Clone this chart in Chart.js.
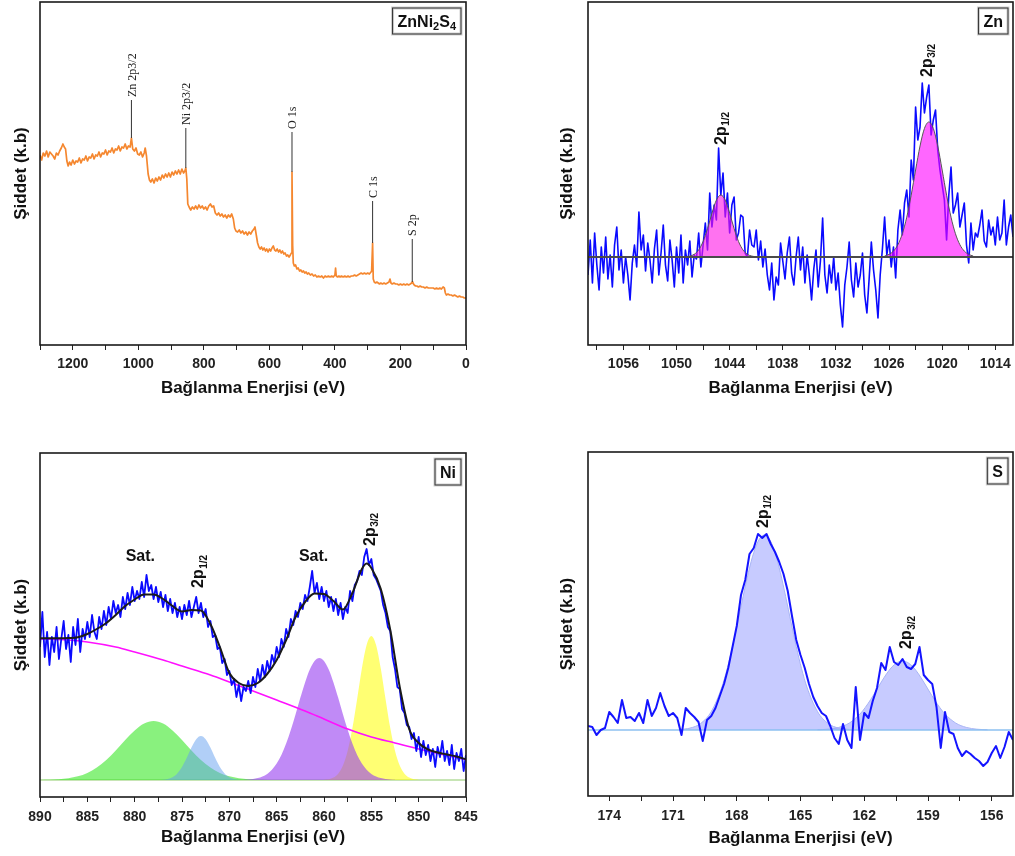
<!DOCTYPE html>
<html>
<head>
<meta charset="utf-8">
<title>ZnNi2S4 XPS</title>
<script src="https://cdn.jsdelivr.net/npm/chart.js@4.4.1/dist/chart.umd.min.js"></script>
<style>
  body { margin: 0; background: #fff; }
  canvas { position: absolute; }
</style>
</head>
<body>
<canvas id="survey" width="480" height="400" style="left:0;top:0"></canvas>
<canvas id="zn" width="475" height="400" style="left:540px;top:0"></canvas>
<canvas id="ni" width="480" height="416" style="left:0;top:440px"></canvas>
<canvas id="sulfur" width="475" height="416" style="left:540px;top:440px"></canvas>
<script>
// ---- survey scan [binding energy eV, intensity] ----
const surveyScan = [
  [1300,190],[1295,185],[1290,192],[1285,189],[1280,194],[1275,188],[1270,193],[1265,191],[1260,189],[1255,186],
  [1250,192],[1245,190],[1240,194],[1235,197],[1230,201],[1226,198],[1222,196],[1218,184],[1214,179],[1210,183],
  [1205,180],[1200,185],[1195,181],[1190,184],[1185,183],[1180,187],[1175,182],[1170,186],[1165,185],[1160,189],
  [1155,184],[1150,188],[1145,187],[1140,191],[1135,186],[1130,190],[1125,189],[1120,193],[1115,188],[1110,192],
  [1105,191],[1100,195],[1095,190],[1090,194],[1085,193],[1080,197],[1075,192],[1070,196],[1065,195],[1060,199],
  [1055,194],[1050,198],[1045,197],[1040,201],[1035,196],[1030,199],[1025,198],[1021,207],[1017,196],[1012,194],
  [1007,197],[1002,191],[997,190],[992,193],[987,188],[982,192],[979,197],[975,189],[970,171],[966,165],
  [962,163],[957,166],[952,162],[947,167],[942,164],[937,168],[932,165],[927,170],[922,167],[917,171],
  [912,168],[907,172],[902,168],[897,173],[892,170],[887,174],[882,171],[877,175],[872,171],[867,176],
  [862,172],[858,174],[855,177],[852,166],[849,141],[845,138],[840,135],[835,138],[830,136],[825,139],
  [820,136],[815,140],[810,137],[805,139],[800,136],[795,138],[790,135],[785,139],[780,141],[775,138],
  [770,139],[765,132],[760,130],[755,132],[750,129],[745,131],[740,128],[735,130],[730,127],[725,130],
  [720,128],[715,131],[710,126],[706,117],[702,114],[697,113],[692,115],[687,112],[682,114],[677,111],
  [672,113],[667,110],[662,113],[657,111],[652,114],[647,116],[644,118],[640,110],[636,102],[632,98],
  [628,96],[624,98],[620,95],[616,97],[612,94],[608,96],[604,93],[600,96],[596,94],[592,97],
  [588,99],[584,95],[580,94],[576,96],[572,93],[568,95],[564,92],[560,94],[556,91],[552,92],
  [548,89],[544,90],[540,88],[536,90],[533,92],[531,173],[529,100],[527,82],[524,79],[520,80],
  [516,76],[512,77],[508,74],[504,75],[500,73],[496,74],[492,72],[488,73],[484,71],[480,72],
  [475,70],[470,71],[465,69],[460,70],[455,68],[450,69],[445,68],[440,69],[435,67],[430,69],
  [425,68],[420,69],[415,68],[410,69],[405,68],[400,70],[398,77],[396,69],[392,68],[388,69],
  [384,68],[380,69],[375,68],[370,69],[365,68],[360,69],[355,68],[350,69],[345,69],[340,70],
  [335,69],[330,70],[325,71],[320,72],[315,71],[310,72],[305,71],[300,72],[295,71],[290,73],
  [288,74],[285,102],[283,66],[280,63],[276,62],[272,63],[268,62],[264,61],[260,62],[255,61],
  [250,62],[245,61],[240,62],[235,63],[232,66],[229,62],[225,61],[220,62],[215,61],[210,61],
  [205,60],[200,61],[195,60],[190,61],[185,60],[180,61],[175,60],[170,61],[166,62],[164,63],
  [162,62],[158,60],[154,59],[150,59],[145,58],[140,59],[135,58],[130,58],[125,57],[120,58],
  [115,57],[110,57],[105,57],[100,57],[95,56],[90,57],[85,56],[80,57],[75,56],[70,58],
  [66,57],[63,52],[60,50],[55,51],[50,50],[45,50],[40,49],[35,50],[30,49],[25,48],
  [20,49],[15,48],[10,48],[5,47],[0,47]
];
const surveyPeakNames = ['Zn 2p3/2', 'Ni 2p3/2', 'O 1s', 'C 1s', 'S 2p'];
const surveyPeakEnergy = [1021, 855, 531, 285, 164];
const surveyPeakTop = [207, 177, 173, 102, 63];
const surveyLeaderTop = [245, 217, 213, 144, 106];
const surveyTicks = [1200, 1000, 800, 600, 400, 200, 0];

// ---- Zn 2p region, 0.25 eV steps from 1060 eV down ----
const znStart = 1060, znStep = 0.25;
const znCounts = [
  70,105,62,112,80,55,98,72,
  108,66,90,58,100,118,75,95,
  62,88,70,45,82,100,78,133,
  95,110,74,102,85,62,96,115,
  70,92,120,80,64,105,85,58,
  98,72,110,62,95,80,104,68,
  90,86,112,78,100,122,95,152,
  118,140,125,197,150,172,128,152,
  112,140,148,105,112,130,128,92,
  88,115,100,98,115,85,104,78,
  96,70,55,82,45,68,60,102,
  84,66,92,108,72,60,88,108,
  75,98,62,90,70,45,76,95,
  58,84,127,70,52,80,62,88,
  55,72,40,18,60,78,103,65,
  48,82,58,70,92,50,32,66,
  103,75,55,27,70,96,128,90,
  105,78,98,67,115,135,110,142,
  155,128,185,165,238,205,218,262,
  232,248,260,210,225,235,195,175,
  160,145,105,150,178,132,140,152,
  118,130,142,100,82,122,95,112,
  108,120,135,104,98,125,110,118,
  100,128,105,112,145,100,118,130,
  108
];
const znBaseline = 88;
const znFit12 = [
  [1049,88.2],[1048.5,88.9],[1048,90.7],[1047.5,95.1],[1047,103.5],[1046.5,116.4],[1046,131.8],[1045.5,144.9],
  [1045,150],[1044.5,144.9],[1044,131.8],[1043.5,116.4],[1043,103.5],[1042.5,95.1],[1042,90.7],[1041.5,88.9],[1041,88.2]
];
const znFit32 = [
  [1026.5,89],[1026,90.6],[1025.5,93.9],[1025,100.3],[1024.5,111.3],[1024,127.8],[1023.5,149.8],[1023,175],
  [1022.5,199],[1022,216.6],[1021.5,223],[1021,216.6],[1020.5,199],[1020,175],[1019.5,149.8],[1019,127.8],
  [1018.5,111.3],[1018,100.3],[1017.5,93.9],[1017,90.6],[1016.5,89]
];
const znTicks = [1056, 1050, 1044, 1038, 1032, 1026, 1020, 1014];

// ---- Ni 2p region, 0.25 eV steps from 890 eV down ----
const niStart = 890, niStep = 0.25;
const niCounts = [
  150,185,140,165,132,160,145,170,
  138,158,176,148,162,135,170,152,
  178,145,168,158,175,160,182,165,
  158,180,168,186,172,190,178,196,
  184,192,180,200,188,204,192,210,
  196,206,198,215,200,222,206,212,
  198,210,195,205,190,202,186,198,
  184,194,180,190,178,192,182,196,
  180,190,200,184,194,180,188,170,
  176,160,162,148,150,134,138,122,
  126,112,118,100,112,96,110,106,
  116,104,120,110,128,116,132,120,
  136,126,142,134,150,140,158,150,
  168,160,178,172,186,180,194,188,
  202,196,210,226,204,214,198,210,
  196,206,190,200,186,198,182,194,
  178,190,184,206,196,212,216,226,
  222,240,248,232,238,222,218,212,
  206,192,184,170,166,140,128,110,
  108,88,84,72,70,58,64,46,
  60,40,56,42,52,36,48,30,
  50,40,56,36,46,32,52,28,
  44,36,48,26,
  42
];
const niEnvelope = [
  [890,158.7],[889,158.7],[888,158.7],[887,159],[886,159.7],[885,163],[884,168],[883,174],[882,182],[881,191],
  [880,197.5],[879,202.5],[878,202.5],[877,198],[876,191],[875,185.5],[874,187],[873,186.5],[872,173],[871,150],
  [870,124],[869,114],[868,111],[867,114],[866,123],[865,137],[864,157],[863,180],[862,195],[861,203.5],
  [860,203],[859,196],[858,187.5],[857,204],[856,228],[855.5,233.5],[855,229],[854,208],[853,167],[852,110],
  [851,68],[850,54],[849,47.5],[848,44.5],[847,42.5],[846,40.5],[845,37.7]
];
const niBackground = [
  [890,158],[887,157],[885,155],[882,150],[880,145],[877,137],[875,131],[872,122],[870,115],[867.5,106],
  [865,97],[862,86],[860,78],[857.5,68],[855,60],[852.5,54],[850,48],[847.5,42.5],[845,37.5]
];
const niSatHigh = [
  [890,17.1],[889,17.3],[888,17.8],[887,18.8],[886,20.7],[885,24.1],[884,29.4],[883,37],[882,46.5],[881,57],
  [880,66.6],[879,73.5],[878,76],[877,73.5],[876,66.6],[875,57],[874,46.5],[873,37],[872,29.4],[871,24.1],
  [870,20.7],[869,18.8],[868,17.8],[867,17.3],[866,17.1],[865,17]
];
const ni2p12 = [
  [877.5,17.1],[877,17.3],[876.5,18],[876,19.8],[875.5,23.5],[875,30],[874.5,39.2],[874,49.4],[873.5,57.8],[873,61],
  [872.5,57.8],[872,49.4],[871.5,39.2],[871,30],[870.5,23.5],[870,19.8],[869.5,18],[869,17.3],[868.5,17.1]
];
const niSatLow = [
  [868.5,17.2],[868,17.5],[867.5,18],[867,18.9],[866.5,20.5],[866,23.1],[865.5,27.3],[865,33.5],[864.5,42.1],
  [864,53.4],[863.5,67.2],[863,82.8],[862.5,99.2],[862,114.6],[861.5,127.5],[861,136],[860.5,139],
  [860,136],[859.5,127.5],[859,114.6],[858.5,99.2],[858,82.8],[857.5,67.2],[857,53.4],[856.5,42.1],
  [856,33.5],[855.5,27.3],[855,23.1],[854.5,20.5],[854,18.9],[853.5,18],[853,17.5],[852.5,17.2]
];
const ni2p32 = [
  [860,17.2],[859.5,17.8],[859,19.4],[858.5,23.3],[858,31.5],[857.5,46.2],[857,68.9],[856.5,98.1],[856,128.6],[855.5,152],
  [855,161],[854.5,152],[854,128.6],[853.5,98.1],[853,68.9],[852.5,46.2],[852,31.5],[851.5,23.3],[851,19.4],[850.5,17.8],[850,17.2]
];
const niBaseline = 17;
const niTicks = [890, 885, 880, 875, 870, 865, 860, 855, 850, 845];

// ---- S 2p region, 0.2 eV steps from 175 eV down ----
const sStart = 175, sStep = 0.2;
const sCounts = [
  70,69,61,66,68,84,79,73,96,78,
  79,75,83,73,96,80,88,103,90,80,
  83,78,61,88,83,79,74,55,76,80,
  88,100,112,128,149,170,201,216,242,248,
  262,258,262,252,244,234,222,205,180,156,
  141,128,112,99,90,83,80,70,58,52,
  72,56,48,109,56,83,78,95,108,133,
  126,149,134,131,137,129,127,132,149,121,
  116,112,89,48,84,64,62,48,40,45,
  42,38,35,30,34,43,50,38,49,64,
  56
];
const sBaseline = 66;
const sFit12 = [
  [170.7,66.5],[170.2,67.9],[169.7,72.5],[169.2,84.4],[168.7,109],[168.45,127.3],[168.2,149.3],[167.95,174],
  [167.7,199.6],[167.45,223.6],[167.2,243.5],[166.95,256.4],[166.7,261],[166.45,256.4],[166.2,243.5],
  [165.95,223.6],[165.7,199.6],[165.45,174],[165.2,149.3],[164.95,127.3],[164.7,109],[164.2,84.4],
  [163.7,72.5],[163.2,67.9],[162.7,66.5]
];
const sFit32 = [
  [164.2,66.2],[163.7,66.8],[163.2,68.6],[162.7,73],[162.2,82],[161.95,88.6],[161.7,96.4],[161.45,105],
  [161.2,113.9],[160.95,122.2],[160.7,129],[160.45,133.4],[160.2,135],[159.95,133.4],[159.7,129],
  [159.45,122.2],[159.2,113.9],[158.95,105],[158.7,96.4],[158.45,88.6],[158.2,82],[157.7,73],
  [157.2,68.6],[156.7,66.8],[156.2,66.2]
];
const sTicks = [174, 171, 168, 165, 162, 159, 156];

// peak captions
const znNotes = [
  { text: '2p', sub: '1/2', x: 1044.9, y: 200, rotate: true },
  { text: '2p', sub: '3/2', x: 1021.7, y: 268, rotate: true }
];
const niNotes = [
  { text: 'Sat.', x: 879.4, y: 240 },
  { text: 'Sat.', x: 861.1, y: 240 },
  { text: '2p', sub: '1/2', x: 873.2, y: 209, rotate: true },
  { text: '2p', sub: '3/2', x: 855.1, y: 251, rotate: true }
];
const sNotes = [
  { text: '2p', sub: '1/2', x: 166.75, y: 268, rotate: true },
  { text: '2p', sub: '3/2', x: 160.0, y: 147, rotate: true }
];

const FONT = '"Liberation Sans", Arial, Helvetica, sans-serif';
Chart.defaults.font.family = FONT;

const pts = arr => arr.map(([x, y]) => ({ x, y }));
const stepped = (start, step, vals) => vals.map((y, i) => ({ x: +(start - i * step).toFixed(2), y }));

// labelled ticks plus an unlabelled one halfway between each pair
function tickValues(major, min, max) {
  const half = Math.abs(major[1] - major[0]) / 2;
  const lo = Math.min(...major);
  const out = [];
  for (let v = lo - half * Math.floor((lo - min) / half); v <= max + 1e-9; v += half) out.push(+v.toFixed(3));
  return out;
}

function drawNote(ctx, px, py, n) {
  ctx.save();
  ctx.translate(px, py);
  ctx.fillStyle = '#111';
  ctx.textBaseline = 'middle';
  ctx.font = `bold 16px ${FONT}`;
  if (n.rotate) {
    ctx.rotate(-Math.PI / 2);
    ctx.textAlign = 'left';
    ctx.fillText(n.text, 0, 0);
    const w = ctx.measureText(n.text).width;
    ctx.font = `bold 10px ${FONT}`;
    ctx.fillText(n.sub, w + 0.5, 5);
  } else {
    ctx.textAlign = 'center';
    ctx.fillText(n.text, 0, 0);
  }
  ctx.restore();
}

function drawTag(ctx, area, parts) {
  const big = `bold 16px ${FONT}`, small = `bold 11px ${FONT}`;
  let w = 0;
  parts.forEach(([t, sub]) => { ctx.font = sub ? small : big; w += ctx.measureText(t).width; });
  const bw = w + 10, bh = 26;
  const bx = area.right - 5 - bw, by = area.top + 6;
  ctx.fillStyle = '#fff';
  ctx.fillRect(bx, by, bw, bh);
  ctx.strokeStyle = '#cfcfcf'; ctx.lineWidth = 3;
  ctx.strokeRect(bx, by, bw, bh);
  ctx.strokeStyle = '#333'; ctx.lineWidth = 1;
  ctx.strokeRect(bx, by, bw, bh);
  ctx.fillStyle = '#111';
  ctx.textAlign = 'left';
  ctx.textBaseline = 'alphabetic';
  let cx = bx + 5;
  parts.forEach(([t, sub]) => {
    ctx.font = sub ? small : big;
    ctx.fillText(t, cx, by + bh / 2 + (sub ? 9 : 6));
    cx += ctx.measureText(t).width;
  });
}

function decor(cfg) {
  return {
    id: 'decor',
    afterDraw(chart) {
      const { ctx, chartArea: a, scales: { x, y } } = chart;
      ctx.save();
      ctx.strokeStyle = '#1a1a1a';
      ctx.lineWidth = 1.6;
      ctx.strokeRect(a.left, a.top, a.right - a.left, a.bottom - a.top);
      (cfg.notes || []).forEach(n => drawNote(ctx, x.getPixelForValue(n.x), y.getPixelForValue(n.y), n));
      if (cfg.leaders) {
        ctx.font = '12px "Liberation Serif", "Times New Roman", serif';
        ctx.fillStyle = '#222';
        ctx.textAlign = 'left';
        ctx.textBaseline = 'middle';
        cfg.leaders.names.forEach((name, i) => {
          ctx.save();
          ctx.translate(x.getPixelForValue(cfg.leaders.energy[i]) + 1, y.getPixelForValue(cfg.leaders.top[i]) - 3);
          ctx.rotate(-Math.PI / 2);
          ctx.fillText(name, 0, 0);
          ctx.restore();
        });
      }
      drawTag(ctx, a, cfg.tag);
      ctx.restore();
    }
  };
}

function makePanel(id, cfg) {
  return new Chart(document.getElementById(id), {
    type: 'line',
    data: { datasets: cfg.datasets },
    options: {
      responsive: false,
      animation: false,
      events: [],
      layout: { padding: { top: cfg.top, right: cfg.right, left: 0, bottom: 0 } },
      plugins: { legend: { display: false }, tooltip: { enabled: false } },
      elements: { point: { radius: 0 }, line: { tension: 0, borderJoinStyle: 'round' } },
      scales: {
        x: {
          type: 'linear',
          reverse: true,
          min: cfg.xMin,
          max: cfg.xMax,
          afterBuildTicks: s => { s.ticks = tickValues(cfg.major, cfg.xMin, cfg.xMax).map(v => ({ value: v })); },
          afterFit: s => { s.height = cfg.xHeight; },
          ticks: {
            autoSkip: false, maxRotation: 0, padding: cfg.tickPad, color: '#222',
            font: { size: 14, weight: 'bold' },
            callback: v => cfg.major.includes(v) ? String(v) : ''
          },
          grid: { display: true, drawOnChartArea: false, drawTicks: true, tickLength: 5, color: '#222' },
          border: { display: false },
          title: {
            display: true, text: 'Bağlanma Enerjisi (eV)', color: '#111',
            font: { size: 17, weight: 'bold' }, padding: { top: 0, bottom: cfg.xTitlePad }
          }
        },
        y: {
          min: 0,
          max: cfg.yMax,
          afterFit: s => { s.width = cfg.yWidth; },
          ticks: { display: false },
          grid: { display: false },
          border: { display: false },
          title: {
            display: true, text: 'Şiddet (k.b)', color: '#111',
            font: { size: 17, weight: 'bold' }, padding: { top: cfg.yTitlePad, bottom: 0 }
          }
        }
      }
    },
    plugins: [decor(cfg)]
  });
}

// survey
const surveyLeaders = surveyPeakEnergy.map((e, i) => ({
  data: [{ x: e, y: surveyPeakTop[i] }, { x: e, y: surveyLeaderTop[i] }],
  borderColor: '#333', borderWidth: 1, order: 1
}));
makePanel('survey', {
  xMin: 0, xMax: 1300, yMax: 343, major: surveyTicks,
  top: 2, right: 14, yWidth: 40, xHeight: 55, tickPad: 6, xTitlePad: 1.5, yTitlePad: 10.8,
  tag: [['ZnNi', false], ['2', true], ['S', false], ['4', true]],
  leaders: { names: surveyPeakNames, energy: surveyPeakEnergy, top: surveyLeaderTop },
  datasets: [
    { data: pts(surveyScan), borderColor: '#f5872f', borderWidth: 1.7, order: 2 },
    ...surveyLeaders
  ]
});

// Zn 2p
makePanel('zn', {
  xMin: 1012, xMax: 1060, yMax: 343, major: znTicks,
  top: 2, right: 2, yWidth: 48, xHeight: 55, tickPad: 6, xTitlePad: 1.8, yTitlePad: 16.8,
  tag: [['Zn', false]],
  notes: znNotes,
  datasets: [
    { data: stepped(znStart, znStep, znCounts), borderColor: '#0a0aff', borderWidth: 1.6, order: 3 },
    { data: pts(znFit12), borderColor: '#555', borderWidth: 1, fill: { value: znBaseline },
      backgroundColor: 'rgba(255,20,230,0.6)', cubicInterpolationMode: 'monotone', order: 2 },
    { data: pts(znFit32), borderColor: '#555', borderWidth: 1, fill: { value: znBaseline },
      backgroundColor: 'rgba(255,0,255,0.6)', cubicInterpolationMode: 'monotone', order: 2 },
    { data: [{ x: 1060, y: znBaseline }, { x: 1012, y: znBaseline }], borderColor: '#4a4a4a', borderWidth: 2.2, order: 1 }
  ]
});

// Ni 2p
makePanel('ni', {
  xMin: 845, xMax: 890, yMax: 344, major: niTicks,
  top: 13, right: 14, yWidth: 40, xHeight: 59, tickPad: 7, xTitlePad: 8, yTitlePad: 10.8,
  tag: [['Ni', false]],
  notes: niNotes,
  datasets: [
    { data: [{ x: 890, y: niBaseline }, { x: 845, y: niBaseline }], borderColor: '#b4dc9c', borderWidth: 1.5, order: 9 },
    { data: pts(niSatHigh), borderWidth: 0, fill: { value: niBaseline }, backgroundColor: 'rgba(40,230,20,0.55)',
      cubicInterpolationMode: 'monotone', order: 8 },
    { data: pts(ni2p12), borderWidth: 0, fill: { value: niBaseline }, backgroundColor: 'rgba(100,160,240,0.5)',
      cubicInterpolationMode: 'monotone', order: 7 },
    { data: pts(ni2p32), borderWidth: 0, fill: { value: niBaseline }, backgroundColor: 'rgba(255,255,0,0.55)',
      cubicInterpolationMode: 'monotone', order: 6 },
    { data: pts(niSatLow), borderWidth: 0, fill: { value: niBaseline }, backgroundColor: 'rgba(150,60,240,0.6)',
      cubicInterpolationMode: 'monotone', order: 5 },
    { data: pts(niBackground), borderColor: '#ff10ff', borderWidth: 1.6, cubicInterpolationMode: 'monotone', order: 3 },
    { data: stepped(niStart, niStep, niCounts), borderColor: '#0a0aff', borderWidth: 1.8, order: 2 },
    { data: pts(niEnvelope), borderColor: '#1a1a1a', borderWidth: 2, cubicInterpolationMode: 'monotone', order: 1 }
  ]
});

// S 2p
makePanel('sulfur', {
  xMin: 155, xMax: 175, yMax: 344, major: sTicks,
  top: 12, right: 2, yWidth: 48, xHeight: 60, tickPad: 7, xTitlePad: 7, yTitlePad: 16.8,
  tag: [['S', false]],
  notes: sNotes,
  datasets: [
    { data: pts(sFit12), borderColor: '#a8b4f4', borderWidth: 1, fill: { value: sBaseline },
      backgroundColor: 'rgba(130,140,255,0.45)', cubicInterpolationMode: 'monotone', order: 4 },
    { data: pts(sFit32), borderColor: '#a8b4f4', borderWidth: 1, fill: { value: sBaseline },
      backgroundColor: 'rgba(130,140,255,0.45)', cubicInterpolationMode: 'monotone', order: 4 },
    { data: [{ x: 175, y: sBaseline }, { x: 155, y: sBaseline }], borderColor: '#8cc0f0', borderWidth: 1.5, order: 3 },
    { data: stepped(sStart, sStep, sCounts), borderColor: '#1414ff', borderWidth: 2, order: 1 }
  ]
});
</script>
</body>
</html>
